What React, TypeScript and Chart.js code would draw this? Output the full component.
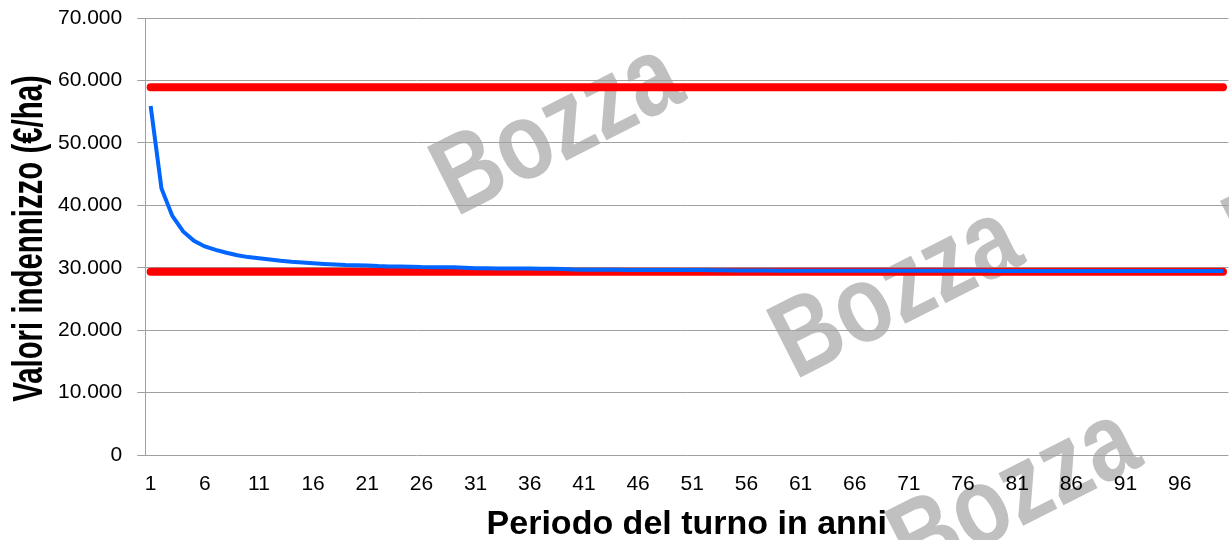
import React, { useEffect, useRef } from 'react';
import { Chart, registerables } from 'chart.js';

Chart.register(...registerables);

const categories = [
  '1', '2', '3', '4', '5', '6', '7', '8', '9', '10',
  '11', '12', '13', '14', '15', '16', '17', '18', '19', '20',
  '21', '22', '23', '24', '25', '26', '27', '28', '29', '30',
  '31', '32', '33', '34', '35', '36', '37', '38', '39', '40',
  '41', '42', '43', '44', '45', '46', '47', '48', '49', '50',
  '51', '52', '53', '54', '55', '56', '57', '58', '59', '60',
  '61', '62', '63', '64', '65', '66', '67', '68', '69', '70',
  '71', '72', '73', '74', '75', '76', '77', '78', '79', '80',
  '81', '82', '83', '84', '85', '86', '87', '88', '89', '90',
  '91', '92', '93', '94', '95', '96', '97', '98', '99', '100',
];

const xTickLabels = ['1', '6', '11', '16', '21', '26', '31', '36', '41', '46', '51', '56', '61', '66', '71', '76', '81', '86', '91', '96'];

const yTickValues = [0, 10000, 20000, 30000, 40000, 50000, 60000, 70000];
const yTickLabels = ['0', '10.000', '20.000', '30.000', '40.000', '50.000', '60.000', '70.000'];

// Valori indennizzo (€/ha) per periodo del turno (anni 1..100)
const indennizzo = [
  55900, 42700, 38300, 35800, 34300, 33400, 32850, 32400, 32000, 31700,
  31500, 31300, 31100, 30950, 30850, 30720, 30600, 30500, 30420, 30400,
  30370, 30260, 30200, 30200, 30170, 30100, 30080, 30080, 30060, 30000,
  29920, 29900, 29890, 29880, 29870, 29860, 29850, 29840, 29800, 29700,
  29680, 29670, 29660, 29660, 29650, 29650, 29640, 29640, 29630, 29630,
  29620, 29620, 29610, 29600, 29560, 29540, 29540, 29535, 29530, 29530,
  29525, 29520, 29520, 29515, 29515, 29510, 29510, 29510, 29505, 29505,
  29500, 29500, 29500, 29500, 29495, 29495, 29495, 29495, 29490, 29490,
  29490, 29490, 29490, 29485, 29485, 29485, 29485, 29485, 29480, 29480,
  29480, 29480, 29480, 29480, 29480, 29475, 29475, 29475, 29475, 29475,
];

const upperLimit = 58900;
const lowerLimit = 29350;

const yTitle = 'Valori indennizzo (€/ha)';
const xTitle = 'Periodo del turno in anni';
const watermarkText = 'Bozza';

const FONT = '"Liberation Sans", Arial, Helvetica, sans-serif';

const watermarkPlugin = {
  id: 'bozzaWatermark',
  beforeDraw(chart: any) {
    const ctx = chart.ctx as CanvasRenderingContext2D;
    const spots = [
      [572, 158],
      [911, 321],
      [1029, 523],
      [1365, 212],
    ];
    ctx.save();
    ctx.fillStyle = '#c0c0c0';
    ctx.font = `bold 110px ${FONT}`;
    ctx.textAlign = 'center';
    ctx.textBaseline = 'alphabetic';
    for (const [x, y] of spots) {
      ctx.save();
      ctx.translate(x, y);
      ctx.rotate((-27 * Math.PI) / 180);
      ctx.scale(0.82, 1);
      ctx.fillText(watermarkText, 0, 0);
      ctx.restore();
    }
    ctx.restore();
  },
};

const yTitlePlugin = {
  id: 'condensedYTitle',
  afterDraw(chart: any) {
    const ctx = chart.ctx as CanvasRenderingContext2D;
    const area = chart.chartArea;
    const cy = (area.top + area.bottom) / 2 + 2;
    ctx.save();
    ctx.fillStyle = '#000000';
    ctx.font = `bold 42px ${FONT}`;
    ctx.textAlign = 'center';
    ctx.textBaseline = 'alphabetic';
    ctx.translate(42, cy);
    ctx.rotate(-Math.PI / 2);
    ctx.scale(0.7, 1);
    ctx.fillText(yTitle, 0, 0);
    ctx.restore();
  },
};

export default function App() {
  const canvasRef = useRef<HTMLCanvasElement | null>(null);

  useEffect(() => {
    document.body.style.margin = '0';
    document.body.style.overflow = 'hidden';
    const canvas = canvasRef.current;
    if (!canvas) return;

    const chart = new Chart(canvas, {
      type: 'line',
      data: {
        labels: categories,
        datasets: [
          {
            label: 'Valori indennizzo',
            data: indennizzo,
            borderColor: '#0066FF',
            backgroundColor: '#0066FF',
            borderWidth: 4,
            pointRadius: 0,
            tension: 0,
            fill: false,
            order: 0,
          },
          {
            label: 'Limite superiore',
            data: [
              { x: categories[0], y: upperLimit },
              { x: categories[categories.length - 1], y: upperLimit },
            ],
            borderColor: '#FF0000',
            backgroundColor: '#FF0000',
            borderWidth: 8,
            borderCapStyle: 'round',
            pointRadius: 0,
            fill: false,
            order: 1,
          },
          {
            label: 'Limite inferiore',
            data: [
              { x: categories[0], y: lowerLimit },
              { x: categories[categories.length - 1], y: lowerLimit },
            ],
            borderColor: '#FF0000',
            backgroundColor: '#FF0000',
            borderWidth: 8,
            borderCapStyle: 'round',
            pointRadius: 0,
            fill: false,
            order: 2,
          },
        ],
      },
      options: {
        responsive: false,
        maintainAspectRatio: false,
        animation: false,
        layout: { padding: { left: 43, top: 18, right: 1, bottom: 0 } },
        plugins: {
          legend: { display: false },
          tooltip: { enabled: false },
        },
        scales: {
          x: {
            type: 'category',
            offset: true,
            grid: { display: false, drawTicks: false, tickLength: 0 },
            border: { display: false },
            ticks: {
              autoSkip: false,
              maxRotation: 0,
              minRotation: 0,
              padding: 17,
              color: '#000000',
              font: { family: FONT, size: 21 },
              callback: (_v: any, index: number) =>
                xTickLabels.includes(categories[index]) ? categories[index] : '',
            },
            title: {
              display: true,
              text: xTitle,
              color: '#000000',
              font: { family: FONT, size: 34, weight: 'bold' },
              padding: { top: -10, bottom: 0 },
            },
          },
          y: {
            min: 0,
            max: 70000,
            afterFit: (scale: any) => {
              scale.paddingTop = 0;
              scale.paddingBottom = 0;
            },
            grid: { color: '#a0a0a0', lineWidth: 1, drawTicks: true, tickLength: 8 },
            border: { display: true, color: '#a0a0a0', width: 1 },
            ticks: {
              stepSize: 10000,
              padding: 15,
              color: '#000000',
              font: { family: FONT, size: 21 },
              callback: (v: any) => {
                const i = yTickValues.indexOf(Number(v));
                return i >= 0 ? yTickLabels[i] : '';
              },
            },
            title: { display: false },
          },
        },
      },
      plugins: [watermarkPlugin, yTitlePlugin],
    } as any);

    return () => {
      chart.destroy();
    };
  }, []);

  return (
    <div style={{ width: 1229, height: 540, overflow: 'hidden', position: 'relative', background: '#ffffff' }}>
      <canvas ref={canvasRef} width={1240} height={545} style={{ display: 'block' }} />
    </div>
  );
}
